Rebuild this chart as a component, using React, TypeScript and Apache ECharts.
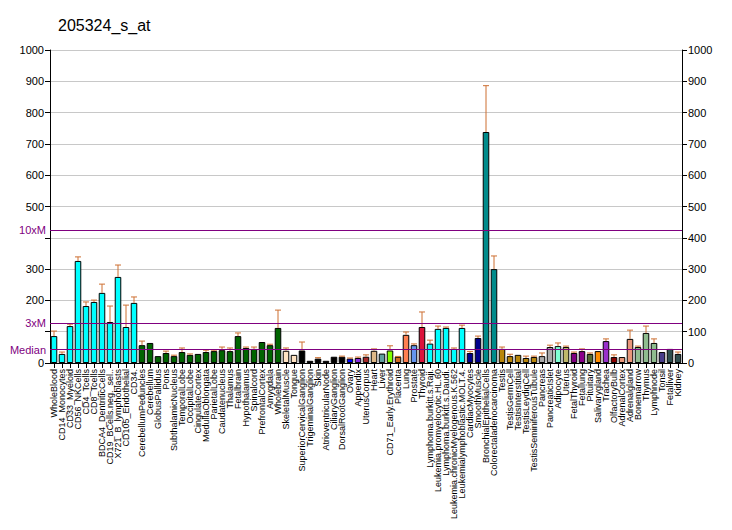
import React, { useEffect, useRef } from "react";
import * as echarts from "echarts";

const categories = [
  "WholeBlood", "CD14_Monocytes", "CD33_Myeloid", "CD56_NKCells", "CD4_Tcells", "CD8_Tcells",
  "BDCA4_DentriticCells", "CD19_BCells.neg._sel..", "X721_B_lymphoblasts", "CD105_Endothelial", "CD34.",
  "CerebellumPeduncles", "Cerebellum", "GlobusPallidus", "Pons", "SubthalamicNucleus", "TemporalLobe",
  "OccipitalLobe", "CingulateCortex", "MedullaOblongata", "ParietalLobe", "Caudatenucleus", "Thalamus",
  "Fetalbrain", "Hypothalamus", "Spinalcord", "PrefrontalCortex", "Amygdala", "Wholebrain",
  "SkeletalMuscle", "Tongue", "SuperiorCervicalGanglion", "TrigeminalGanglion", "Skin",
  "AtrioventricularNode", "CiliaryGanglion", "DorsalRootGanglion", "Ovary", "Appendix", "UterusCorpus",
  "Heart", "Liver", "CD71_Early.Erythroid", "Placenta", "Lung", "Prostate", "Thyroid",
  "Lymphoma.burkitt.s.Raji.", "Leukemia.promyelocytic.HL.60", "Lymphoma.burkitt.s.Daudi.",
  "Leukemia.chronicMyelogenous.K.562", "Leukemialymphoblastic.MOLT.4.", "CardiacMyocytes", "SmoothMuscle",
  "BronchialEpithelialCells", "Colorectaladenocarcinoma", "Testis", "TestisGermCell", "TestisInterstitial",
  "TestisLeydigCell", "TestisSeminiferousTubule", "Pancreas", "PancreaticIslet", "Adipocyte", "Uterus",
  "FetalThyroid", "Fetallung", "Pituitary", "Salivarygland", "Trachea", "OlfactoryBulb", "AdrenalCortex",
  "Adrenalgland", "Bonemarrow", "Thymus", "Lymphnode", "Tonsil", "Fetalliver", "Kidney",
];

const values = [
  86, 29, 118, 326, 182, 195, 224, 131, 275, 115, 192,
  57, 64, 22, 32, 22, 35, 26, 29, 35, 38, 41, 38, 86, 48, 45, 67, 57, 112,
  39, 26, 40, 7, 14, 7, 20, 20, 14, 16, 20, 39, 30, 40, 20, 90, 57, 115,
  62, 109, 112, 45, 112, 32, 80, 738, 300, 45, 22, 26, 16, 19, 22, 51, 54, 51,
  32, 38, 29, 38, 70, 19, 19, 77, 51, 96, 64, 35, 45, 29,
];

const errorTops = [
  102, 35, 124, 339, 195, 201, 252, 182, 313, 185, 211,
  70, 64, 22, 38, 25, 48, 29, 29, 41, 41, 51, 48, 96, 51, 51, 67, 60, 169,
  48, 26, 67, 7, 17, 7, 20, 22, 16, 19, 26, 45, 30, 55, 21, 99, 61, 163,
  73, 118, 115, 48, 121, 37, 86, 886, 342, 51, 28, 26, 22, 22, 32, 57, 64, 54,
  35, 45, 32, 38, 77, 26, 19, 105, 54, 118, 77, 35, 45, 35,
];

const barColors = [
  ...Array(11).fill("#00FFFF"),
  ...Array(18).fill("#006400"),
  "#FFE4C4", "#FFE4C4",
  ...Array(6).fill("#000000"),
  "#0000FF", "#8A2BE2", "#A52A2A", "#DEB887", "#5F9EA0", "#7FFF00", "#D2691E", "#FF7F50", "#6495ED", "#DC143C",
  ...Array(5).fill("#00FFFF"),
  "#00008B", "#00008B",
  "#008B8B", "#008B8B",
  ...Array(5).fill("#B8860B"),
  "#A9A9A9", "#A9A9A9",
  "#7FFFD4", "#BDB76B", "#800080", "#8B008B", "#556B2F", "#FF8C00", "#9932CC", "#8B0000",
  "#E9967A", "#E9967A",
  "#8FBC8F", "#8FBC8F", "#8FBC8F",
  "#483D8B", "#2F4F4F", "#2F4F4F",
];

const refLines = [
  { name: "Median", value: 42.5 },
  { name: "3xM", value: 127.5 },
  { name: "10xM", value: 425 },
];

const hiddenLeftTicks = [100, 400];

const FONT = "'Liberation Sans', Arial, sans-serif";

export default function App() {
  const ref = useRef<HTMLDivElement>(null);
  useEffect(() => {
    const chart = echarts.init(ref.current!, null, { renderer: "svg" });
    const yBase = {
      type: "value",
      min: 0,
      max: 1000,
      interval: 100,
      axisLine: { show: true, lineStyle: { color: "#000000", width: 1 } },
      axisTick: { show: true, length: 5, lineStyle: { color: "#000000" } },
    };
    const labelRich = { n: { color: "#000000", fontSize: 11, fontFamily: FONT } };
    chart.setOption({
      animation: false,
      textStyle: { fontFamily: FONT, color: "#000000" },
      title: {
        text: "205324_s_at",
        left: 53,
        top: 12,
        textStyle: { fontSize: 16, fontWeight: "normal", color: "#000000", fontFamily: FONT },
      },
      grid: { left: 50, right: 50, top: 50, bottom: 167, containLabel: false },
      xAxis: {
        type: "category",
        data: categories,
        axisLine: { show: true, lineStyle: { color: "#000000" } },
        axisTick: { show: true, alignWithLabel: true, length: 5, lineStyle: { color: "#000000" } },
        axisLabel: { interval: 0, rotate: 90, fontSize: 9, color: "#000000", margin: 6, fontFamily: FONT },
      },
      yAxis: [
        {
          ...yBase,
          position: "left",
          splitLine: { show: true, lineStyle: { color: "#C8C8C8", width: 1 } },
          axisLabel: {
            fontSize: 11,
            color: "#000000",
            margin: 6,
            fontFamily: FONT,
            rich: labelRich,
            formatter: (v: number) => (hiddenLeftTicks.includes(v) ? "" : `{n|${v}}`),
          },
        },
        {
          ...yBase,
          position: "right",
          splitLine: { show: false },
          axisLabel: {
            fontSize: 11,
            color: "#000000",
            margin: 6,
            fontFamily: FONT,
            rich: labelRich,
            formatter: (v: number) => `{n|${v}}`,
          },
        },
      ],
      series: [
        {
          type: "bar",
          data: values.map((v, i) => ({ value: v, itemStyle: { color: barColors[i] } })),
          barCategoryGap: "18%",
          itemStyle: { borderColor: "#000000", borderWidth: 1 },
          markLine: {
            silent: true,
            symbol: "none",
            lineStyle: { color: "#800080", width: 1, type: "solid" },
            label: { position: "start", color: "#800080", fontSize: 11, distance: 4, fontFamily: FONT },
            data: refLines.map((r) => ({ yAxis: r.value, label: { formatter: r.name } })),
          },
          z: 2,
        },
        {
          type: "custom",
          data: values.map((v, i) => [i, v, errorTops[i]]),
          encode: { x: 0, y: [1, 2] },
          z: 3,
          renderItem: (params: any, api: any) => {
            const i = api.value(0);
            const v = api.value(1);
            const e = api.value(2);
            if (e <= v) return null;
            const p0 = api.coord([i, v]);
            const p1 = api.coord([i, e]);
            const style = { stroke: "#CD6F31", lineWidth: 1 };
            return {
              type: "group",
              children: [
                { type: "line", shape: { x1: p0[0], y1: p0[1], x2: p1[0], y2: p1[1] }, style },
                { type: "line", shape: { x1: p1[0] - 3, y1: p1[1], x2: p1[0] + 3, y2: p1[1] }, style },
              ],
            };
          },
        },
      ],
    });
    return () => chart.dispose();
  }, []);
  return (
    <div
      ref={ref}
      style={{ position: "fixed", left: 0, top: 0, width: 732, height: 530, background: "#fff" }}
    />
  );
}
